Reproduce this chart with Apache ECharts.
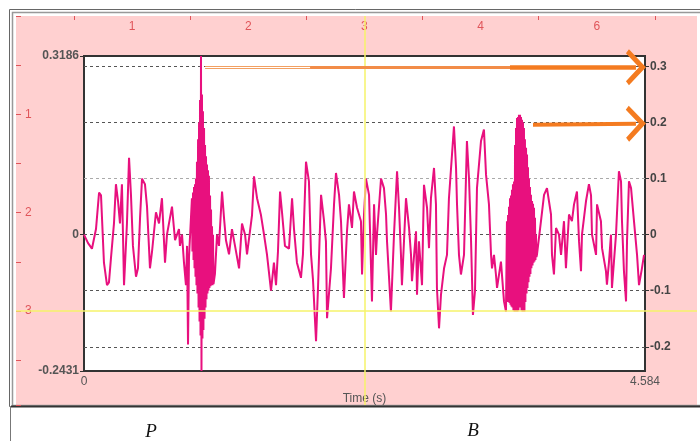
<!DOCTYPE html>
<html>
<head>
<meta charset="utf-8">
<script src="https://cdn.jsdelivr.net/npm/echarts@6/dist/echarts.min.js"></script>
<style>
  html, body { margin: 0; padding: 0; background: #fff; }
  #chart { width: 700px; height: 441px; }
</style>
</head>
<body>
<div id="chart"></div>
<script>
// waveform, [time (s), amplitude]
const segStart = [[0.000,0.0],[0.033,-0.015],[0.065,-0.025],[0.098,0.01],[0.123,0.075],[0.139,0.07],[0.163,-0.05],[0.188,-0.09],[0.204,-0.085],[0.221,-0.04],[0.245,0.02],[0.261,0.09],[0.278,0.06],[0.294,0.02],[0.310,0.09],[0.327,-0.09],[0.351,0.02],[0.368,0.137],[0.384,0.07],[0.400,-0.02],[0.425,-0.075],[0.441,-0.06],[0.458,0.03],[0.474,0.1],[0.498,0.09],[0.515,0.05],[0.539,-0.06],[0.556,-0.03],[0.588,0.04],[0.613,0.02],[0.637,0.065],[0.662,-0.05],[0.678,0.0],[0.719,0.05],[0.744,-0.01],[0.776,0.01],[0.784,-0.02],[0.801,0.0],[0.817,-0.05],[0.833,-0.09],[0.842,-0.02],[0.850,-0.196],[0.858,-0.04],[0.874,0.03]];

// dense burst under "P": upper / lower envelope per sample
const burstPTime = [0.882,0.891,0.899,0.907,0.915,0.923,0.932,0.940,0.948,0.956,0.964,0.972,0.981,0.989,0.997,1.005,1.013,1.021,1.030,1.038,1.046,1.054];
const burstPHigh = [0.065,0.075,0.085,0.09,0.1,0.13,0.17,0.2,0.24,0.3186,0.25,0.22,0.19,0.16,0.14,0.125,0.115,0.105,0.07,0.045,0.015,0.0];
const burstPLow = [-0.03,-0.045,-0.06,-0.075,-0.09,-0.105,-0.13,-0.155,-0.18,-0.2431,-0.185,-0.17,-0.15,-0.13,-0.115,-0.105,-0.1,-0.095,-0.092,-0.09,-0.09,-0.088];

const segMiddle = [[1.070,-0.07],[1.087,0.0],[1.103,-0.02],[1.128,0.077],[1.144,0.03],[1.160,-0.01],[1.185,-0.035],[1.209,0.01],[1.234,-0.02],[1.267,-0.06],[1.291,0.02],[1.316,0.0],[1.332,-0.035],[1.373,0.035],[1.389,0.104],[1.414,0.065],[1.446,0.035],[1.471,0.0],[1.495,-0.035],[1.528,-0.1],[1.552,-0.05],
  [1.569,-0.09],[1.585,-0.03],[1.602,0.077],[1.618,0.04],[1.642,-0.02],[1.675,-0.025],[1.700,0.065],[1.716,0.01],[1.740,-0.05],[1.773,-0.077],[1.789,-0.035],[1.814,0.13],[1.838,0.095],[1.855,-0.035],[1.871,-0.08],[1.896,-0.19],[1.912,-0.095],[1.937,0.071],[1.961,0.025],[1.977,-0.012],[1.986,-0.149],[2.018,-0.06],[2.043,0.054],[2.059,0.11],[2.084,0.071],[2.100,0.024],[2.124,-0.113],[2.149,0.006],[2.165,0.054],[2.190,0.012],[2.206,0.077],[2.231,0.048],[2.263,0.024],[2.272,-0.071],[2.288,0.036],[2.304,0.1],[2.329,0.071],
  [2.353,-0.119],[2.370,0.054],[2.386,-0.036],[2.394,0.0],[2.427,0.1],[2.451,0.083],[2.468,0.036],[2.476,-0.012],[2.508,-0.137],[2.533,0.0],[2.558,0.113],[2.574,0.048],[2.590,-0.036],[2.598,-0.09],[2.631,0.065],[2.656,0.012],[2.672,-0.036],[2.680,-0.083],[2.713,0.006],[2.721,-0.107],[2.737,-0.012],[2.762,-0.09],[2.778,0.089],[2.803,0.048],[2.819,-0.024],[2.835,0.065],[2.860,0.119],[2.876,0.054],[2.884,-0.095],[2.901,-0.167],[2.917,-0.107],[2.942,-0.06],[2.966,-0.036],[2.982,0.065],[3.007,0.143],[3.023,0.193],[3.040,0.119],[3.048,0.054],[3.064,-0.036],[3.080,-0.071],[3.105,-0.036],
  [3.129,0.167],[3.146,0.1],[3.162,-0.006],[3.178,-0.143],[3.195,-0.1],[3.211,0.083],[3.244,0.167],[3.268,0.1875],[3.285,0.107],[3.309,0.054],[3.326,-0.036],[3.334,-0.06],[3.350,-0.036],[3.366,-0.071],[3.375,-0.095],[3.407,-0.048],[3.432,-0.119],[3.448,-0.137]];

// dense burst under "B"
const burstBTime = [3.456,3.465,3.473,3.481,3.489,3.497,3.505,3.514,3.522,3.530,3.538,3.546,3.554,3.563,3.571,3.579,3.587,3.595,3.603,3.612,3.620,3.628,3.636,3.644,3.652,3.661,3.669,3.677,3.685,3.693];
const burstBHigh = [0.024,0.035,0.05,0.065,0.07,0.08,0.09,0.095,0.16,0.19,0.208,0.21,0.214,0.214,0.21,0.205,0.2,0.19,0.17,0.155,0.143,0.12,0.1,0.085,0.071,0.06,0.055,0.048,0.03,0.0];
const burstBLow = [-0.12,-0.12,-0.122,-0.125,-0.128,-0.13,-0.135,-0.137,-0.137,-0.137,-0.137,-0.135,-0.13,-0.13,-0.135,-0.137,-0.137,-0.137,-0.12,-0.105,-0.095,-0.085,-0.075,-0.07,-0.06,-0.055,-0.05,-0.048,-0.045,-0.04];

const segEnd = [[3.701,-0.036],[3.734,0.024],[3.759,0.071],[3.783,0.083],[3.816,0.036],[3.824,-0.036],[3.840,-0.071],[3.857,0.012],[3.881,0.0],[3.898,-0.036],[3.922,0.024],[3.938,-0.06],[3.963,0.036],[3.987,0.024],[4.004,0.054],[4.028,0.077],[4.045,-0.012],[4.061,-0.065],[4.069,0.0],[4.102,0.06],[4.126,0.09],[4.143,0.07],[4.151,0.0],[4.184,-0.036],[4.192,0.054],[4.224,0.024],[4.233,-0.024],[4.265,-0.065],[4.273,-0.089],[4.290,-0.048],[4.306,0.0],[4.314,-0.095],[4.347,0.0],[4.371,0.113],[4.388,0.095],[4.396,0.024],[4.412,-0.065],[4.429,-0.119],[4.437,-0.012],[4.453,0.095],[4.470,0.083],[4.494,0.024],[4.519,-0.036],[4.535,-0.09],[4.559,-0.06],[4.576,-0.036]];

const timeMax = 4.584;
const ampMin = -0.2431;
const ampMax = 0.3186;
const leftTicks = [ampMin, 0, ampMax];
const rightTicks = [-0.2, -0.1, 0, 0.1, 0.2, 0.3];
const rulerTopLabels = ['', '1', '2', '3', '4', '6'];
const rulerLeftLabels = ['', '1', '2', '3'];
const cursorAt = 3;

// orange arrows (time, amplitude)
const arrowTop = { start: 0.989, mid: 1.847, thick: 3.481, end: 4.51, amp: 0.2986 };
const arrowLow = { start: 3.669, end: 4.51, ampStart: 0.196, ampEnd: 0.198 };

function zigzag(times, high, low) {
  const out = [];
  times.forEach((t, i) => {
    out.push([t, high[i]]);
    out.push([t + 0.004, low[i]]);
  });
  return out;
}

const wave = [].concat(
  segStart,
  zigzag(burstPTime, burstPHigh, burstPLow),
  segMiddle,
  zigzag(burstBTime, burstBHigh, burstBLow),
  segEnd
);

const rulerColor = '#e0555a';
const orange = '#f47b20';
const chevron = 'path://M0,17 L18,0 L36,17 L32,20 L18,7 L4,20 Z';

const chart = echarts.init(document.getElementById('chart'), null, { renderer: 'canvas' });

chart.setOption({
  animation: false,
  backgroundColor: '#fff',
  textStyle: { fontFamily: 'Liberation Sans, Arial, sans-serif' },
  grid: [
    { left: 16, top: 16, right: 0, bottom: 36, show: true, backgroundColor: '#ffd0d0', borderWidth: 0 },
    { left: 84, top: 56, right: 55, bottom: 70, show: true, backgroundColor: '#fff', borderColor: '#333', borderWidth: 2 }
  ],
  xAxis: [
    {
      gridIndex: 0, type: 'value', position: 'top', min: 0, max: 5.863, interval: 1,
      axisLine: { show: false },
      axisTick: { show: false, inside: true },
      minorTick: { show: true, splitNumber: 2, length: 4, lineStyle: { color: rulerColor } },
      splitLine: { show: false },
      axisLabel: { inside: true, margin: 5, color: rulerColor, fontSize: 12, formatter: v => rulerTopLabels[v] || '' }
    },
    {
      gridIndex: 1, type: 'value', min: 0, max: timeMax,
      name: 'Time (s)', nameLocation: 'middle', nameGap: 21,
      nameTextStyle: { color: '#555', fontSize: 12 },
      axisLine: { show: false },
      axisTick: { show: false },
      splitLine: { show: false },
      axisLabel: { customValues: [0, timeMax], color: '#555', fontSize: 12, margin: 5, formatter: v => (v === 0 ? '0' : '4.584') }
    }
  ],
  yAxis: [
    {
      gridIndex: 0, type: 'value', inverse: true, min: 0, max: 3.956, interval: 1,
      axisLine: { show: false },
      axisTick: { show: true, inside: true, length: 5, lineStyle: { color: rulerColor } },
      minorTick: { show: true, splitNumber: 2, length: 5, lineStyle: { color: rulerColor } },
      splitLine: { show: false },
      axisLabel: { inside: true, margin: 9, color: rulerColor, fontSize: 12, formatter: v => rulerLeftLabels[v] || '' }
    },
    {
      gridIndex: 1, type: 'value', position: 'left', min: ampMin, max: ampMax,
      axisLine: { show: false },
      axisTick: { show: true, customValues: leftTicks, length: 4, lineStyle: { color: '#333' } },
      splitLine: { show: false },
      axisLabel: { customValues: leftTicks, color: '#555', fontSize: 12, fontWeight: 'bold', margin: 5,
        formatter: v => (v === 0 ? '0' : v.toFixed(4)) }
    },
    {
      gridIndex: 1, type: 'value', position: 'right', min: ampMin, max: ampMax,
      axisLine: { show: false },
      axisTick: { show: true, customValues: rightTicks, length: 4, lineStyle: { color: '#333' } },
      splitLine: {
        show: true,
        // -0.2, -0.1, 0, 0.1 (lighter), 0.2, 0.3
        lineStyle: { color: ['#555', '#555', '#555', '#aaa', '#555', '#555', '#555', '#555'], type: [3, 3], width: 1 }
      },
      axisLabel: { customValues: rightTicks, color: '#444', fontSize: 12, fontWeight: 'bold', margin: 5,
        formatter: v => (v === 0 ? '0' : v.toFixed(1)) }
    }
  ],
  series: [
    {
      name: 'cursor', type: 'line', xAxisIndex: 0, yAxisIndex: 0, data: [], z: 1,
      markLine: {
        silent: true, symbol: ['none', 'none'], label: { show: false },
        lineStyle: { color: '#f6f36a', width: 1.5, type: 'solid' },
        data: [{ xAxis: cursorAt }, { yAxis: cursorAt }]
      }
    },
    {
      name: 'signal', type: 'line', xAxisIndex: 1, yAxisIndex: 2, data: wave, z: 3,
      showSymbol: false, symbol: 'none',
      lineStyle: { color: '#e8107e', width: 2 }
    },
    {
      name: 'arrows', type: 'line', xAxisIndex: 1, yAxisIndex: 2, data: [], z: 5,
      markLine: {
        silent: true, symbol: ['none', 'none'], label: { show: false },
        data: [
          [{ coord: [arrowTop.start, arrowTop.amp + 0.0023], lineStyle: { width: 1, color: '#f2a062', type: 'solid' } },
           { coord: [arrowTop.mid, arrowTop.amp + 0.0023] }],
          [{ coord: [arrowTop.start, arrowTop.amp - 0.0022], lineStyle: { width: 1, color: '#f2a062', type: 'solid' } },
           { coord: [arrowTop.mid, arrowTop.amp - 0.0022] }],
          [{ coord: [arrowTop.mid, arrowTop.amp], lineStyle: { width: 3, color: '#f28c48', type: 'solid' } },
           { coord: [arrowTop.thick, arrowTop.amp] }],
          [{ coord: [arrowTop.thick, arrowTop.amp], lineStyle: { width: 4.5, color: orange, type: 'solid' } },
           { coord: [arrowTop.end, arrowTop.amp], symbol: chevron, symbolSize: [36, 20] }],
          [{ coord: [arrowLow.start, arrowLow.ampStart], lineStyle: { width: 4, color: orange, type: 'solid' } },
           { coord: [arrowLow.end, arrowLow.ampEnd], symbol: chevron, symbolSize: [36, 20] }]
        ]
      }
    }
  ],
  graphic: [
    { type: 'rect', silent: true, shape: { x: 9.5, y: 9.5, width: 700, height: 397 }, style: { fill: 'none', stroke: '#666', lineWidth: 1 } },
    { type: 'rect', silent: true, shape: { x: 12.5, y: 12.5, width: 700, height: 393 }, style: { fill: 'none', stroke: '#999', lineWidth: 1.5 } },
    { type: 'line', silent: true, shape: { x1: 11, y1: 406.5, x2: 700, y2: 406.5 }, style: { stroke: '#333', lineWidth: 2 } },
    { type: 'line', silent: true, shape: { x1: 10.5, y1: 406, x2: 10.5, y2: 441 }, style: { stroke: '#777', lineWidth: 1 } },
    { type: 'text', silent: true, x: 151, y: 432, style: { text: 'P', font: 'italic 19px "Liberation Serif", serif', fill: '#111', align: 'center', verticalAlign: 'middle' } },
    { type: 'text', silent: true, x: 473, y: 431, style: { text: 'B', font: 'italic 19px "Liberation Serif", serif', fill: '#111', align: 'center', verticalAlign: 'middle' } }
  ]
});
</script>
</body>
</html>
